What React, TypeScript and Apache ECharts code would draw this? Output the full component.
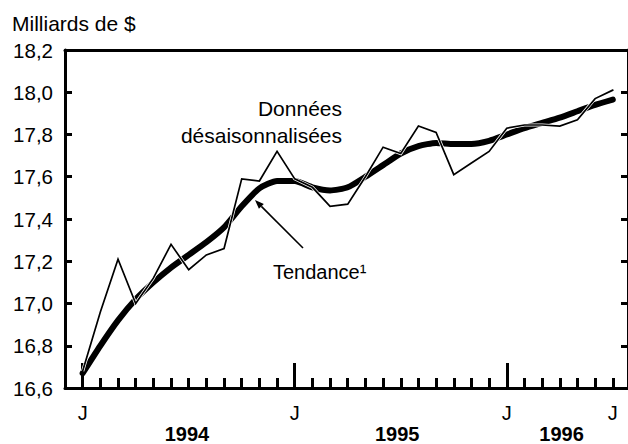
import React, { useEffect, useRef } from "react";
import * as echarts from "echarts";

// Monthly values, January 1994 (index 0) to July 1996 (index 30), billions of $
const seasAdj = [16.68, 16.96, 17.21, 17.0, 17.12, 17.28, 17.16, 17.23, 17.26, 17.59, 17.58, 17.72, 17.59, 17.55, 17.46, 17.47, 17.6, 17.74, 17.71, 17.84, 17.81, 17.61, 17.665, 17.72, 17.83, 17.845, 17.845, 17.84, 17.87, 17.97, 18.01];
const trend = [16.67, 16.8, 16.92, 17.02, 17.1, 17.17, 17.23, 17.29, 17.36, 17.46, 17.545, 17.58, 17.58, 17.55, 17.535, 17.55, 17.6, 17.655, 17.71, 17.745, 17.76, 17.755, 17.755, 17.77, 17.8, 17.83, 17.855, 17.88, 17.91, 17.94, 17.965];
const monthLetterIdx = [0, 12, 24, 30];
const monthLetters = ["J", "J", "J", "J"];
const yearTickIdx = [0, 12, 24];
const yearLabels = ["1994", "1995", "1996"];
const yearLabelPos = [5.9, 17.8, 27.1];
const yMin = 16.6;
const yMax = 18.2;
const yStep = 0.2;

const FONT = "'Liberation Sans', Arial, sans-serif";

export default function App() {
  const ref = useRef<HTMLDivElement>(null);
  useEffect(() => {
    if (!ref.current) return;
    const chart = echarts.init(ref.current, undefined, { renderer: "svg" });
    const xMin = -1;
    const xMax = 30.86;
    const allIdx = seasAdj.map((_, i) => i);
    const black = "#000";
    const tip = [255, 200];
    const tail = [303, 248];
    const dx = tip[0] - tail[0];
    const dy = tip[1] - tail[1];
    const len = Math.sqrt(dx * dx + dy * dy);
    const ux = dx / len;
    const uy = dy / len;
    const bx = tip[0] - 9 * ux;
    const by = tip[1] - 9 * uy;
    const px = -uy;
    const py = ux;
    chart.setOption({
      animation: false,
      backgroundColor: "#fff",
      textStyle: { fontFamily: FONT },
      grid: { left: 65, right: -5, top: 50, bottom: 55, containLabel: false },
      xAxis: [
        {
          type: "value",
          min: xMin,
          max: xMax,
          position: "bottom",
          axisLine: { show: true, onZero: false, lineStyle: { color: black, width: 3 } },
          axisTick: { show: true, inside: true, length: 10, customValues: allIdx, lineStyle: { color: black, width: 3 } },
          axisLabel: {
            show: true,
            customValues: monthLetterIdx,
            formatter: (v: number) => monthLetters[monthLetterIdx.indexOf(Math.round(v))] ?? "",
            color: black,
            fontSize: 20,
            fontFamily: FONT,
            margin: 15,
          },
          splitLine: { show: false },
        },
        {
          type: "value",
          min: xMin,
          max: xMax,
          position: "bottom",
          axisLine: { show: false, onZero: false },
          axisTick: { show: true, inside: true, length: 25, customValues: yearTickIdx, lineStyle: { color: black, width: 3 } },
          axisLabel: {
            show: true,
            customValues: yearLabelPos,
            formatter: (v: number) => {
              const k = yearLabelPos.findIndex((p) => Math.abs(p - v) < 0.01);
              return k >= 0 ? yearLabels[k] : "";
            },
            color: black,
            fontSize: 20,
            fontWeight: "bold",
            fontFamily: FONT,
            margin: 36,
          },
          splitLine: { show: false },
        },
        {
          type: "value",
          min: xMin,
          max: xMax,
          position: "top",
          axisLine: { show: true, onZero: false, lineStyle: { color: black, width: 3 } },
          axisTick: { show: false },
          axisLabel: { show: false },
          splitLine: { show: false },
        },
      ],
      yAxis: [
        {
          type: "value",
          min: yMin,
          max: yMax,
          interval: yStep,
          position: "left",
          axisLine: { show: true, onZero: false, lineStyle: { color: black, width: 3 } },
          axisTick: { show: true, inside: true, length: 7, lineStyle: { color: black, width: 3 } },
          axisLabel: {
            color: black,
            fontSize: 20.5,
            fontFamily: FONT,
            margin: 12,
            formatter: (v: number) => v.toFixed(1).replace(".", ","),
          },
          splitLine: { show: false },
        },
        {
          type: "value",
          min: yMin,
          max: yMax,
          interval: yStep,
          position: "right",
          axisLine: { show: true, onZero: false, lineStyle: { color: black, width: 3 } },
          axisTick: { show: true, inside: true, length: 7, lineStyle: { color: black, width: 3 } },
          axisLabel: { show: false },
          splitLine: { show: false },
        },
      ],
      series: [
        {
          name: "Tendance",
          type: "line",
          data: trend.map((v, i) => [i, v]),
          showSymbol: false,
          smooth: 0.2,
          lineStyle: { color: black, width: 6, cap: "round", join: "round" },
          z: 2,
        },
        {
          name: "casing",
          type: "line",
          data: seasAdj.map((v, i) => [i, v]),
          showSymbol: false,
          lineStyle: { color: "#fff", width: 3.2, cap: "butt", join: "miter" },
          z: 3,
          silent: true,
        },
        {
          name: "Données désaisonnalisées",
          type: "line",
          data: seasAdj.map((v, i) => [i, v]),
          showSymbol: false,
          lineStyle: { color: black, width: 1.7, cap: "round", join: "miter" },
          z: 4,
        },
      ],
      graphic: [
        {
          type: "text",
          left: 12,
          top: 13,
          style: { text: "Milliards de $", fill: black, fontSize: 21, fontFamily: FONT },
        },
        {
          type: "text",
          x: 342,
          y: 108,
          style: { text: "Données", fill: black, fontSize: 21, fontFamily: FONT, align: "right", verticalAlign: "middle" },
          z: 10,
        },
        {
          type: "text",
          x: 342,
          y: 135,
          style: { text: "désaisonnalisées", fill: black, fontSize: 21, fontFamily: FONT, align: "right", verticalAlign: "middle" },
          z: 10,
        },
        {
          type: "text",
          x: 273,
          y: 272,
          style: { text: "Tendance¹", fill: black, fontSize: 20, fontFamily: FONT, align: "left", verticalAlign: "middle" },
          z: 10,
        },
        {
          type: "line",
          shape: { x1: tail[0], y1: tail[1], x2: bx, y2: by },
          style: { stroke: black, lineWidth: 1.6 },
          z: 10,
        },
        {
          type: "polygon",
          shape: {
            points: [
              [tip[0], tip[1]],
              [bx + 3.5 * px, by + 3.5 * py],
              [bx - 3.5 * px, by - 3.5 * py],
            ],
          },
          style: { fill: black },
          z: 10,
        },
      ],
    });
    return () => chart.dispose();
  }, []);
  return <div ref={ref} style={{ position: "absolute", left: 0, top: 0, width: 628, height: 444 }} />;
}
